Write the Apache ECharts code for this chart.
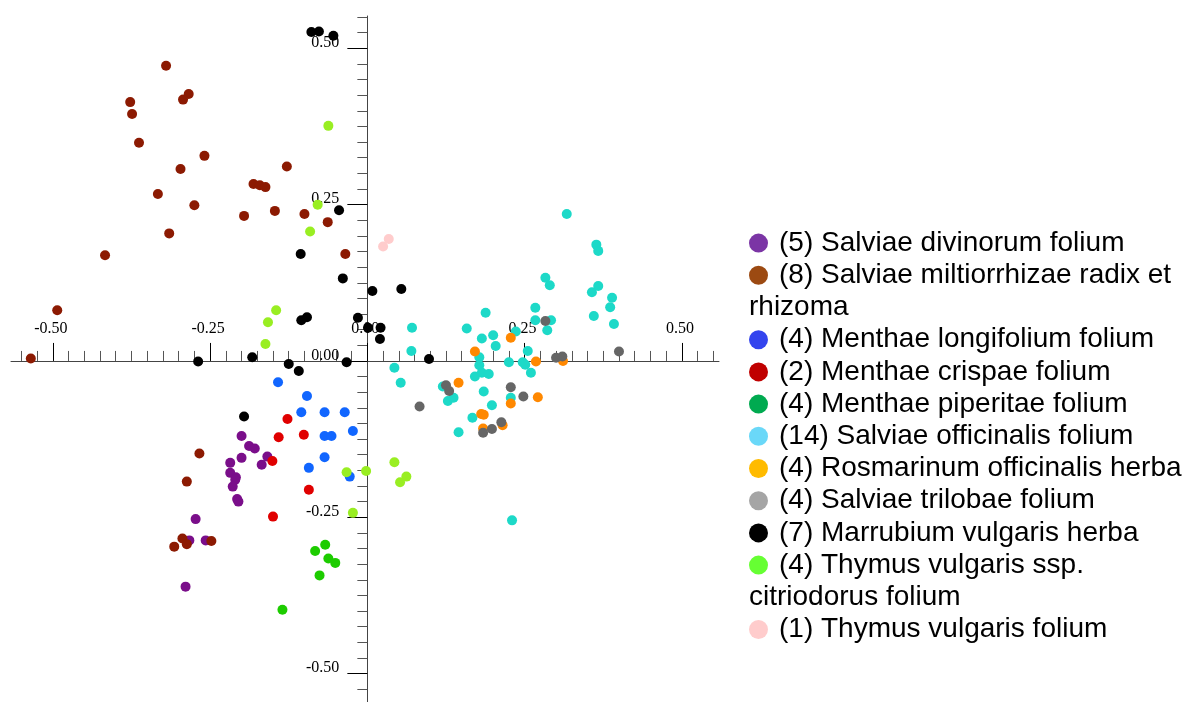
<!DOCTYPE html>
<html>
<head>
<meta charset="utf-8">
<script src="https://cdn.jsdelivr.net/npm/echarts@6/dist/echarts.min.js"></script>
<style>
  html, body { margin: 0; padding: 0; background: #fff; }
  #chart { width: 1185px; height: 702px; }
</style>
</head>
<body>
<div id="chart"></div>
<script>
// Sample groups (legend order)
const groupNames = [
  '(5) Salviae divinorum folium',
  '(8) Salviae miltiorrhizae radix et rhizoma',
  '(4) Menthae longifolium folium',
  '(2) Menthae crispae folium',
  '(4) Menthae piperitae folium',
  '(14) Salviae officinalis folium',
  '(4) Rosmarinum officinalis herba',
  '(4) Salviae trilobae folium',
  '(7) Marrubium vulgaris herba',
  '(4) Thymus vulgaris ssp. citriodorus folium',
  '(1) Thymus vulgaris folium'
];
// Legend text as it wraps in the key
const legendLabels = [
  '(5) Salviae divinorum folium',
  '(8) Salviae miltiorrhizae radix et\nrhizoma',
  '(4) Menthae longifolium folium',
  '(2) Menthae crispae folium',
  '(4) Menthae piperitae folium',
  '(14) Salviae officinalis folium',
  '(4) Rosmarinum officinalis herba',
  '(4) Salviae trilobae folium',
  '(7) Marrubium vulgaris herba',
  '(4) Thymus vulgaris ssp.\ncitriodorus folium',
  '(1) Thymus vulgaris folium'
];

// Score coordinates [component 1, component 2]
const salviaeDivinorum = [
  [-0.200,-0.120],[-0.188,-0.136],[-0.179,-0.140],[-0.200,-0.155],[-0.159,-0.153],
  [-0.168,-0.166],[-0.218,-0.163],[-0.218,-0.179],[-0.209,-0.186],[-0.210,-0.190],
  [-0.214,-0.201],[-0.207,-0.221],[-0.205,-0.225],[-0.273,-0.253],[-0.283,-0.287],
  [-0.257,-0.287],[-0.289,-0.361]
];
const salviaeMiltiorrhizae = [
  [-0.320,0.472],[-0.377,0.414],[-0.374,0.395],[-0.284,0.427],[-0.293,0.418],
  [-0.363,0.349],[-0.259,0.328],[-0.297,0.307],[-0.128,0.311],[-0.333,0.267],
  [-0.275,0.249],[-0.181,0.283],[-0.171,0.281],[-0.162,0.278],[-0.196,0.232],
  [-0.147,0.240],[-0.100,0.235],[-0.063,0.222],[-0.035,0.171],[-0.315,0.204],
  [-0.417,0.169],[-0.493,0.081],[-0.535,0.004],[-0.267,-0.148],[-0.287,-0.193],
  [-0.294,-0.284],[-0.287,-0.293],[-0.307,-0.297],[-0.248,-0.288]
];
const menthaeLongifolium = [
  [-0.142,-0.034],[-0.096,-0.056],[-0.105,-0.082],[-0.068,-0.082],[-0.036,-0.082],
  [-0.023,-0.112],[-0.068,-0.120],[-0.057,-0.120],[-0.068,-0.154],[-0.093,-0.171],
  [-0.028,-0.185]
];
const menthaeCrispae = [
  [-0.127,-0.093],[-0.141,-0.122],[-0.101,-0.118],[-0.151,-0.160],[-0.093,-0.206],
  [-0.150,-0.249]
];
const menthaePiperitae = [
  [-0.067,-0.294],[-0.083,-0.304],[-0.062,-0.316],[-0.051,-0.323],[-0.076,-0.343],
  [-0.135,-0.398]
];
const salviaeOfficinalis = [
  [0.317,0.235],[0.364,0.186],[0.367,0.176],[0.283,0.133],[0.290,0.121],
  [0.357,0.110],[0.367,0.120],[0.389,0.101],[0.386,0.086],[0.360,0.072],
  [0.392,0.059],[0.267,0.085],[0.267,0.065],[0.292,0.065],[0.286,0.049],
  [0.188,0.077],[0.158,0.052],[0.071,0.053],[0.182,0.036],[0.200,0.041],
  [0.204,0.024],[0.070,0.016],[0.236,0.047],[0.255,0.016],[0.225,-0.002],
  [0.247,-0.002],[0.251,-0.006],[0.260,-0.019],[0.178,0.006],[0.178,-0.007],
  [0.171,-0.025],[0.182,-0.019],[0.193,-0.021],[0.043,-0.011],[0.053,-0.035],
  [0.120,-0.041],[0.128,-0.064],[0.137,-0.059],[0.185,-0.049],[0.198,-0.071],
  [0.228,-0.059],[0.167,-0.091],[0.145,-0.114],[0.230,-0.255]
];
const rosmarinumOfficinalis = [
  [0.228,0.037],[0.171,0.015],[0.268,-0.001],[0.311,0.000],[0.145,-0.035],
  [0.271,-0.058],[0.228,-0.068],[0.181,-0.085],[0.185,-0.086],[0.184,-0.108],
  [0.215,-0.103]
];
const salviaeTrilobae = [
  [0.283,0.064],[0.300,0.005],[0.310,0.007],[0.400,0.015],[0.125,-0.039],
  [0.130,-0.048],[0.083,-0.073],[0.228,-0.042],[0.248,-0.057],[0.213,-0.098],
  [0.198,-0.109],[0.184,-0.115]
];
const marrubiumVulgaris = [
  [-0.089,0.526],[-0.077,0.527],[-0.054,0.520],[-0.045,0.241],[-0.106,0.171],
  [-0.039,0.132],[0.008,0.112],[0.054,0.115],[-0.105,0.065],[-0.096,0.070],
  [-0.015,0.069],[0.001,0.053],[0.021,0.053],[0.020,0.035],[-0.269,-0.001],
  [-0.183,0.006],[-0.125,-0.005],[-0.109,-0.016],[-0.033,-0.002],[0.098,0.003],
  [-0.196,-0.089]
];
const thymusCitriodorus = [
  [-0.062,0.376],[-0.079,0.250],[-0.091,0.207],[-0.145,0.081],[-0.158,0.062],
  [-0.162,0.027],[-0.033,-0.178],[-0.002,-0.176],[-0.023,-0.243],[0.043,-0.162],
  [0.062,-0.185],[0.052,-0.194]
];
const thymusVulgaris = [
  [0.025,0.183],[0.034,0.195]
];

const groupData = [
  salviaeDivinorum, salviaeMiltiorrhizae, menthaeLongifolium, menthaeCrispae,
  menthaePiperitae, salviaeOfficinalis, rosmarinumOfficinalis, salviaeTrilobae,
  marrubiumVulgaris, thymusCitriodorus, thymusVulgaris
];

// Axis ticks
const majorTicks = [-0.50, -0.25, 0.00, 0.25, 0.50];
const xRange = [-0.5665, 0.559];
const yRange = [-0.5455, 0.5517];

// Colours
const pointColors = ['#7a0e8a','#8c1a02','#1166ff','#e00000','#1dcc00','#1dd9c8',
                     '#ff8800','#666666','#000000','#99ee22','#ffcccc'];
const legendColors = ['#7b35a5','#9c4a12','#3344ee','#c00000','#00aa50','#6ad8f8',
                      '#ffbb00','#a5a5a5','#000000','#66ff33','#ffcccc'];

// Plot area
const W = 1185, H = 702;
const gridBox = { left: 11, top: 16, right: 466, bottom: 0 };
const plotW = W - gridBox.left - gridBox.right;
const plotH = H - gridBox.top - gridBox.bottom;
// Pixel position of the zero lines, where the axes cross
const zeroX = gridBox.left + (0 - xRange[0]) / (xRange[1] - xRange[0]) * plotW;
const zeroY = gridBox.top + (yRange[1] - 0) / (yRange[1] - yRange[0]) * plotH;
// Axis labels sit next to the crossing axes rather than on the grid edge
const xLabelGap = 24, yLabelGap = 28;
const xLabelMargin = (gridBox.top + plotH - zeroY) + xLabelGap;
const yLabelMargin = yLabelGap - (zeroX - gridBox.left);

// Minor tick positions every 0.025 between the major ticks
function minorTicks(lo, hi) {
  const out = [];
  for (let k = Math.ceil(lo / 0.025 - 1e-9); k * 0.025 <= hi + 1e-9; k++) {
    if (k % 10 !== 0) out.push(+(k * 0.025).toFixed(3));
  }
  return out;
}

const serif = 'Liberation Serif';
const richStyles = { gap: { width: 11 } };
legendColors.forEach((c, i) => {
  richStyles['m' + i] = { width: 19, height: 19, borderRadius: 9.5, backgroundColor: c };
});

const chart = echarts.init(document.getElementById('chart'), null, { renderer: 'canvas' });

const option = {
  animation: false,
  grid: Object.assign({ containLabel: false, outerBoundsMode: 'none' }, gridBox),
  legend: {
    orient: 'vertical',
    left: 744,
    top: 227,
    padding: 0,
    itemGap: 0,
    itemWidth: 0,
    itemHeight: 19,
    icon: 'none',
    data: groupNames,
    formatter: name => {
      const i = groupNames.indexOf(name);
      return '{m' + i + '| }{gap| }' + legendLabels[i];
    },
    textStyle: {
      fontFamily: 'Liberation Sans',
      fontSize: 28,
      lineHeight: 32.2,
      color: '#000',
      rich: richStyles
    }
  },
  xAxis: [
    {
      type: 'value', min: xRange[0], max: xRange[1],
      axisLine: { show: true, onZero: true, onZeroAxisIndex: 0, lineStyle: { color: '#444', width: 1 } },
      axisTick: { show: true, inside: true, length: 18, customValues: majorTicks, lineStyle: { color: '#000' } },
      axisLabel: {
        show: true, inside: true, margin: xLabelMargin, customValues: majorTicks,
        formatter: v => v.toFixed(2), fontFamily: serif, fontSize: 16, color: '#000',
        verticalAlign: 'bottom', padding: [0, 4, 0, 0]
      },
      splitLine: { show: false }
    },
    {
      type: 'value', min: xRange[0], max: xRange[1], position: 'bottom',
      axisLine: { show: false, onZero: true, onZeroAxisIndex: 0 },
      axisTick: { show: true, inside: true, length: 10, customValues: minorTicks(xRange[0], xRange[1]), lineStyle: { color: '#555' } },
      axisLabel: { show: false },
      splitLine: { show: false }
    }
  ],
  yAxis: [
    {
      type: 'value', min: yRange[0], max: yRange[1],
      axisLine: { show: true, onZero: true, onZeroAxisIndex: 0, lineStyle: { color: '#444', width: 1 } },
      axisTick: { show: true, length: 20, customValues: majorTicks, lineStyle: { color: '#000' } },
      axisLabel: {
        show: true, margin: yLabelMargin, customValues: majorTicks,
        formatter: v => v.toFixed(2), fontFamily: serif, fontSize: 16, color: '#000',
        verticalAlign: 'bottom', lineHeight: 11
      },
      splitLine: { show: false }
    },
    {
      type: 'value', min: yRange[0], max: yRange[1], position: 'left',
      axisLine: { show: false, onZero: true, onZeroAxisIndex: 0 },
      axisTick: { show: true, length: 10, customValues: minorTicks(yRange[0], yRange[1]), lineStyle: { color: '#555' } },
      axisLabel: { show: false },
      splitLine: { show: false }
    }
  ],
  series: groupNames.map((name, i) => ({
    name: name,
    type: 'scatter',
    xAxisIndex: 0,
    yAxisIndex: 0,
    symbol: 'circle',
    symbolSize: 10,
    itemStyle: { color: pointColors[i], opacity: 1 },
    emphasis: { disabled: true },
    data: groupData[i]
  }))
};

chart.setOption(option);
</script>
</body>
</html>
